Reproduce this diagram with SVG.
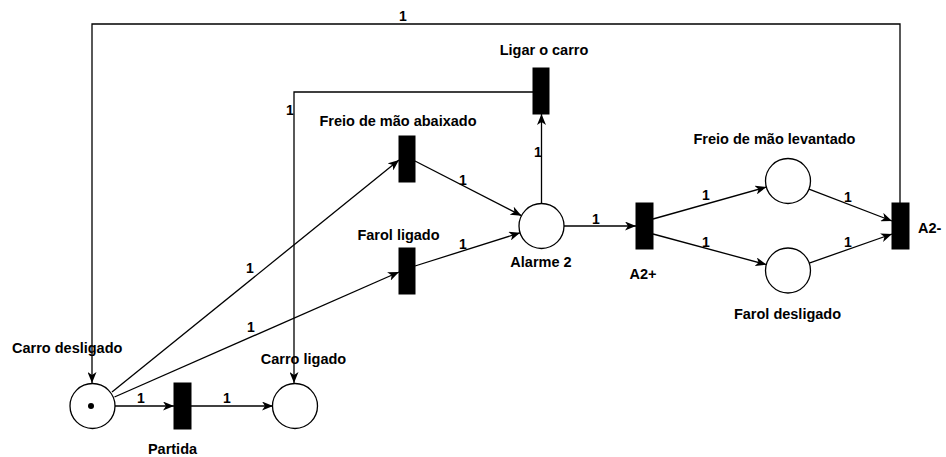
<svg xmlns="http://www.w3.org/2000/svg" width="946" height="457" viewBox="0 0 946 457">
<style>
.pl{fill:#fff;stroke:#000;stroke-width:1.3}
.tr{fill:#000;stroke:#000;stroke-width:1}
.lb{font-family:"Liberation Sans",Arial,sans-serif;font-weight:bold;font-size:14.5px;fill:#000}
.w{font-family:"Liberation Sans",Arial,sans-serif;font-weight:bold;font-size:14px;fill:#000;text-anchor:middle}
.e{fill:none;stroke:#000;stroke-width:1.3;marker-end:url(#ah)}
</style>
<defs>
<marker id="ah" markerUnits="userSpaceOnUse" markerWidth="12" markerHeight="9" refX="11" refY="4.5" orient="auto">
<path d="M0,0 L11,4.5 L0,9 L3,4.5 z" fill="#000"/>
</marker>
</defs>
<rect width="946" height="457" fill="#fff"/>
<g id="connectors">
<polyline class="e" points="900,203 900,24 92,24 92,383"/>
<text class="w" x="403" y="20.5">1</text>
<polyline class="e" points="533,92 294,92 294,383"/>
<text class="w" x="290" y="115">1</text>
<line class="e" x1="541.5" y1="203.5" x2="541.5" y2="114"/>
<text class="w" x="538" y="157">1</text>
<line class="e" x1="112" y1="392" x2="399" y2="160"/>
<text class="w" x="250" y="273">1</text>
<line class="e" x1="114.5" y1="397" x2="399" y2="272"/>
<text class="w" x="251" y="332">1</text>
<line class="e" x1="115" y1="406" x2="174" y2="406"/>
<text class="w" x="141" y="403">1</text>
<line class="e" x1="191" y1="406" x2="273" y2="406"/>
<text class="w" x="227" y="403">1</text>
<line class="e" x1="415" y1="161" x2="521.5" y2="215.7"/>
<text class="w" x="463" y="185">1</text>
<line class="e" x1="415" y1="266" x2="520.1" y2="232.8"/>
<text class="w" x="463" y="249">1</text>
<line class="e" x1="564" y1="226" x2="636" y2="226"/>
<text class="w" x="596" y="224">1</text>
<line class="e" x1="653" y1="219" x2="766.3" y2="187.1"/>
<text class="w" x="706" y="200">1</text>
<line class="e" x1="653" y1="234" x2="766.3" y2="264.6"/>
<text class="w" x="706" y="247">1</text>
<line class="e" x1="809" y1="189.1" x2="892" y2="221"/>
<text class="w" x="848" y="202">1</text>
<line class="e" x1="809.2" y1="263.1" x2="892" y2="234"/>
<text class="w" x="848" y="247">1</text>
</g>
<g id="carro-desligado">
<circle class="pl" cx="92.5" cy="406" r="22.5"/>
<circle cx="91" cy="406" r="3" fill="#000"/>
<text class="lb" x="12" y="353">Carro desligado</text>
</g>
<g id="partida">
<rect class="tr" x="174" y="383" width="17" height="46"/>
<text class="lb" x="172.5" y="453.5" text-anchor="middle">Partida</text>
</g>
<g id="carro-ligado">
<circle class="pl" cx="295" cy="406" r="22.5"/>
<text class="lb" x="303.5" y="364" text-anchor="middle">Carro ligado</text>
</g>
<g id="freio-abaixado">
<rect class="tr" x="399" y="136" width="16" height="46"/>
<text class="lb" x="398" y="126" text-anchor="middle">Freio de mão abaixado</text>
</g>
<g id="farol-ligado">
<rect class="tr" x="399" y="248" width="16" height="46"/>
<text class="lb" x="398.5" y="240" text-anchor="middle">Farol ligado</text>
</g>
<g id="alarme-2">
<circle class="pl" cx="541.5" cy="226" r="22.5"/>
<text class="lb" x="541" y="267" text-anchor="middle">Alarme 2</text>
</g>
<g id="ligar-o-carro">
<rect class="tr" x="533" y="68" width="16" height="46"/>
<text class="lb" x="544" y="54.5" text-anchor="middle">Ligar o carro</text>
</g>
<g id="a2-plus">
<rect class="tr" x="636" y="203" width="17" height="46"/>
<text class="lb" x="643" y="279" text-anchor="middle">A2+</text>
</g>
<g id="freio-levantado">
<circle class="pl" cx="788" cy="181" r="22.5"/>
<text class="lb" x="774.5" y="144" text-anchor="middle">Freio de mão levantado</text>
</g>
<g id="farol-desligado">
<circle class="pl" cx="788" cy="270.5" r="22.5"/>
<text class="lb" x="787.5" y="319" text-anchor="middle">Farol desligado</text>
</g>
<g id="a2-minus">
<rect class="tr" x="892" y="203" width="17" height="46"/>
<text class="lb" x="918" y="233">A2-</text>
</g>
</svg>
